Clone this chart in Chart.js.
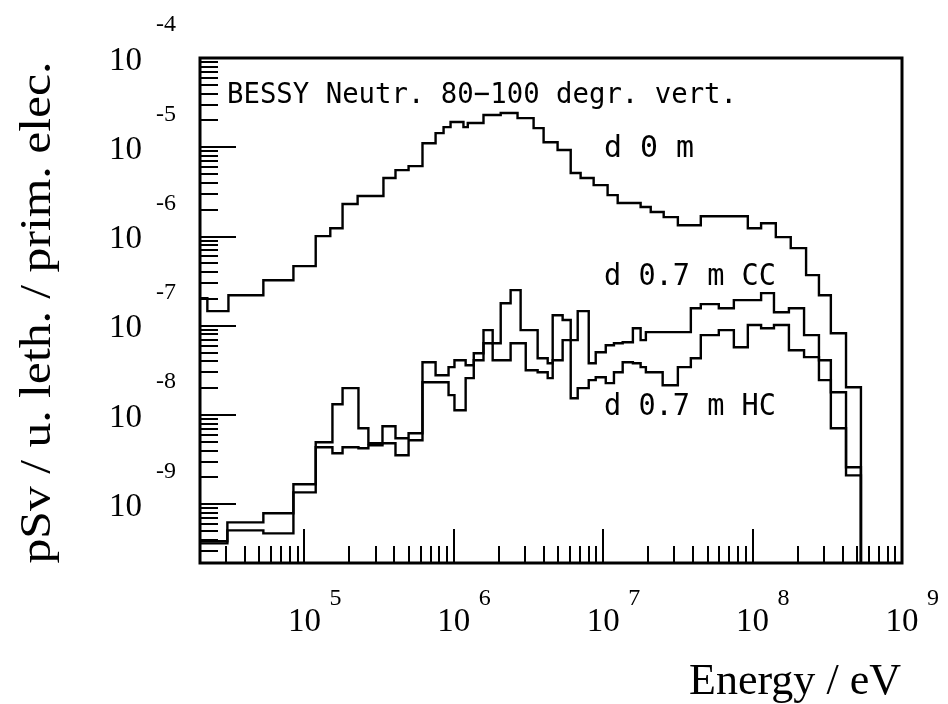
<!DOCTYPE html>
<html>
<head>
<meta charset="utf-8">
<script src="https://cdn.jsdelivr.net/npm/chart.js@4.4.0/dist/chart.umd.min.js"></script>
<style>
    html, body { margin: 0; padding: 0; background: #fff; }
    canvas { display: block; }
</style>
</head>
<body>
<canvas id="doseChart" width="948" height="704"></canvas>
<script>
// axis limits and labelled decades
const xRange = [2.0e4, 1.0e9];
const yRange = [2.2e-10, 1.0e-4];
const xDecades = [5, 6, 7, 8, 9];
const yDecades = [-4, -5, -6, -7, -8, -9];

// d 0 m : bin edges (eV) and dose per bin
const edges0m = [2.0e4, 2.24e4, 3.10e4, 5.31e4, 8.44e4, 1.19e5, 1.49e5, 1.80e5, 2.27e5, 3.38e5,
    4.07e5, 4.98e5, 6.17e5, 7.55e5, 8.54e5, 9.51e5, 1.16e6, 1.24e6, 1.58e6, 2.06e6,
    2.67e6, 3.42e6, 3.99e6, 4.95e6, 6.06e6, 7.06e6, 8.63e6, 1.07e7, 1.25e7, 1.78e7,
    2.08e7, 2.54e7, 3.16e7, 4.50e7, 9.29e7, 1.14e8, 1.43e8, 1.80e8, 2.28e8, 2.78e8,
    3.34e8, 4.22e8, 5.31e8];
const dose0m = [2.04e-7, 1.46e-7, 2.20e-7, 3.24e-7, 4.66e-7, 1.01e-6, 1.24e-6, 2.31e-6, 2.84e-6, 4.52e-6,
    5.55e-6, 6.15e-6, 1.11e-5, 1.44e-5, 1.68e-5, 1.92e-5, 1.68e-5, 1.87e-5, 2.30e-5, 2.42e-5,
    2.12e-5, 1.64e-5, 1.14e-5, 9.30e-6, 5.14e-6, 4.52e-6, 3.77e-6, 2.91e-6, 2.37e-6, 2.14e-6,
    1.88e-6, 1.65e-6, 1.34e-6, 1.69e-6, 1.24e-6, 1.41e-6, 9.85e-7, 7.41e-7, 3.69e-7, 2.20e-7,
    8.26e-8, 2.05e-8];

// d 0.7 m : shared bin edges (eV) for the two shield materials
const edges07 = [2.0e4, 3.05e4, 5.31e4, 8.44e4, 1.19e5, 1.54e5, 1.80e5, 2.30e5, 2.68e5, 3.33e5,
    4.07e5, 4.98e5, 6.17e5, 7.55e5, 9.22e5, 1.01e6, 1.20e6, 1.36e6, 1.58e6, 1.82e6,
    2.06e6, 2.40e6, 2.80e6, 3.03e6, 3.64e6, 4.25e6, 4.59e6, 5.35e6, 6.06e6, 6.75e6,
    8.00e6, 8.91e6, 1.04e7, 1.18e7, 1.35e7, 1.58e7, 1.78e7, 1.93e7, 2.50e7, 3.16e7,
    3.86e7, 4.50e7, 5.94e7, 7.49e7, 9.29e7, 1.14e8, 1.39e8, 1.75e8, 2.21e8, 2.78e8,
    3.34e8, 4.22e8, 5.31e8];
const doseCC = [3.85e-10, 6.28e-10, 7.93e-10, 1.68e-9, 4.95e-9, 1.32e-8, 2.00e-8, 7.11e-9, 4.83e-9, 7.49e-9,
    5.49e-9, 6.25e-9, 3.91e-8, 2.79e-8, 3.44e-8, 4.11e-8, 3.61e-8, 4.93e-8, 8.93e-8, 6.38e-8,
    1.79e-7, 2.51e-7, 8.93e-8, 8.93e-8, 4.33e-8, 3.81e-8, 1.31e-7, 1.16e-7, 6.90e-8, 1.46e-7,
    3.81e-8, 5.06e-8, 6.06e-8, 6.38e-8, 6.55e-8, 9.40e-8, 6.90e-8, 8.48e-8, 8.48e-8, 8.48e-8,
    1.57e-7, 1.75e-7, 1.57e-7, 1.94e-7, 1.94e-7, 2.32e-7, 1.42e-7, 1.57e-7, 7.85e-8, 4.11e-8,
    1.80e-8, 2.60e-9];
const doseHC = [3.65e-10, 5.11e-10, 4.73e-10, 1.36e-9, 4.36e-9, 3.73e-9, 4.36e-9, 4.25e-9, 4.58e-9, 4.83e-9,
    3.54e-9, 5.21e-9, 2.33e-8, 2.33e-8, 1.67e-8, 1.13e-8, 2.59e-8, 4.11e-8, 6.38e-8, 4.11e-8,
    4.11e-8, 6.38e-8, 6.38e-8, 3.18e-8, 3.02e-8, 2.59e-8, 4.11e-8, 6.90e-8, 1.54e-8, 2.00e-8,
    2.46e-8, 2.65e-8, 2.28e-8, 3.02e-8, 3.91e-8, 3.81e-8, 3.44e-8, 3.02e-8, 2.16e-8, 3.44e-8,
    4.33e-8, 7.85e-8, 8.93e-8, 5.75e-8, 1.02e-7, 9.40e-8, 1.02e-7, 5.32e-8, 4.45e-8, 2.46e-8,
    7.11e-9, 2.11e-9];

const seriesNames = ['d 0 m', 'd 0.7 m CC', 'd 0.7 m HC'];
const plotTitle = 'BESSY Neutr. 80\u2212100 degr. vert.';
const xTitle = 'Energy / eV';
const yTitle = 'pSv / u. leth. / prim. elec.';

// histogram outline: one point per bin edge, last bin closed down to the axis
function histPoints(edges, vals) {
    let pts = vals.map((v, i) => ({ x: edges[i], y: v }));
    pts.push({ x: edges[edges.length - 1], y: vals[vals.length - 1] });
    pts.push({ x: edges[edges.length - 1], y: yRange[0] });
    return pts;
}

function logTicks(min, max) {
    let out = [];
    for (let d = Math.floor(Math.log10(min)); d <= Math.ceil(Math.log10(max)); d++) {
        for (let k = 1; k <= 9; k++) {
            let v = k * Math.pow(10, d);
            if (v >= min * 0.999 && v <= max * 1.001) out.push({ v: v, major: k === 1 });
        }
    }
    return out;
}

// draws text squeezed/stretched to a given width
function fitText(ctx, str, x, y, width, align) {
    let w = ctx.measureText(str).width;
    ctx.save();
    ctx.translate(x, y);
    ctx.scale(width / w, 1);
    ctx.textAlign = align || 'left';
    ctx.fillText(str, 0, 0);
    ctx.restore();
}

const serif = '"Liberation Serif", "DejaVu Serif", serif';
const mono = '"DejaVu Sans Mono", "Liberation Mono", monospace';

// frame, inward ticks, power-of-ten labels and texts
const axisDecor = {
    id: 'axisDecor',
    afterDraw(chart) {
        const { ctx, chartArea: { left, top, right, bottom }, scales: { x, y } } = chart;
        ctx.save();
        ctx.strokeStyle = '#000';
        ctx.fillStyle = '#000';

        ctx.lineWidth = 2;
        logTicks(xRange[0], xRange[1]).forEach(t => {
            let px = Math.round(x.getPixelForValue(t.v));
            ctx.beginPath();
            ctx.moveTo(px, bottom);
            ctx.lineTo(px, bottom - (t.major ? 34 : 17));
            ctx.stroke();
        });
        logTicks(yRange[0], yRange[1]).forEach(t => {
            let py = Math.round(y.getPixelForValue(t.v));
            ctx.beginPath();
            ctx.moveTo(left, py);
            ctx.lineTo(left + (t.major ? 36 : 18), py);
            ctx.stroke();
        });

        ctx.lineWidth = 3;
        ctx.strokeRect(left, top, right - left, bottom - top);

        // tick labels
        ctx.textBaseline = 'middle';
        xDecades.forEach(d => {
            let px = x.getPixelForValue(Math.pow(10, d));
            ctx.font = '33px ' + serif;
            ctx.textAlign = 'center';
            ctx.fillText('10', px, bottom + 59);
            ctx.font = '24px ' + serif;
            ctx.textAlign = 'left';
            ctx.fillText(String(d), px + 25, bottom + 36);
        });
        yDecades.forEach(d => {
            let py = y.getPixelForValue(Math.pow(10, d));
            ctx.font = '33px ' + serif;
            ctx.textAlign = 'right';
            ctx.fillText('10', left - 58, py + 3);
            ctx.font = '24px ' + serif;
            ctx.textAlign = 'left';
            ctx.fillText(String(d), left - 44, py - 33);
        });

        // axis titles
        ctx.textBaseline = 'alphabetic';
        ctx.font = '44px ' + serif;
        fitText(ctx, xTitle, right - 1, bottom + 131, 212, 'right');
        ctx.save();
        ctx.translate(50, (top + bottom) / 2 + 2);
        ctx.rotate(-Math.PI / 2);
        fitText(ctx, yTitle, 0, 0, 502, 'center');
        ctx.restore();

        // texts inside the frame
        ctx.font = '29px ' + mono;
        fitText(ctx, plotTitle, left + 27, top + 45, 510);
        ctx.font = '30px ' + mono;
        fitText(ctx, seriesNames[0], left + 404, top + 99, 90);
        fitText(ctx, seriesNames[1], left + 404, top + 227, 172);
        fitText(ctx, seriesNames[2], left + 404, top + 357, 172);
        ctx.restore();
    }
};

const histStyle = {
    borderColor: '#000',
    borderWidth: 2.4,
    stepped: true,
    pointRadius: 0,
    fill: false,
    tension: 0
};

const config = {
    type: 'line',
    data: {
        datasets: [
            Object.assign({ label: seriesNames[0], data: histPoints(edges0m, dose0m) }, histStyle),
            Object.assign({ label: seriesNames[1], data: histPoints(edges07, doseCC) }, histStyle),
            Object.assign({ label: seriesNames[2], data: histPoints(edges07, doseHC) }, histStyle)
        ]
    },
    options: {
        responsive: false,
        animation: false,
        events: [],
        layout: {
            padding: { left: 200, top: 58, right: 46, bottom: 141 }
        },
        scales: {
            x: { type: 'logarithmic', min: xRange[0], max: xRange[1], display: false },
            y: { type: 'logarithmic', min: yRange[0], max: yRange[1], display: false }
        },
        plugins: {
            legend: { display: false },
            tooltip: { enabled: false }
        }
    },
    plugins: [axisDecor]
};

new Chart(document.getElementById('doseChart'), config);
</script>
</body>
</html>
